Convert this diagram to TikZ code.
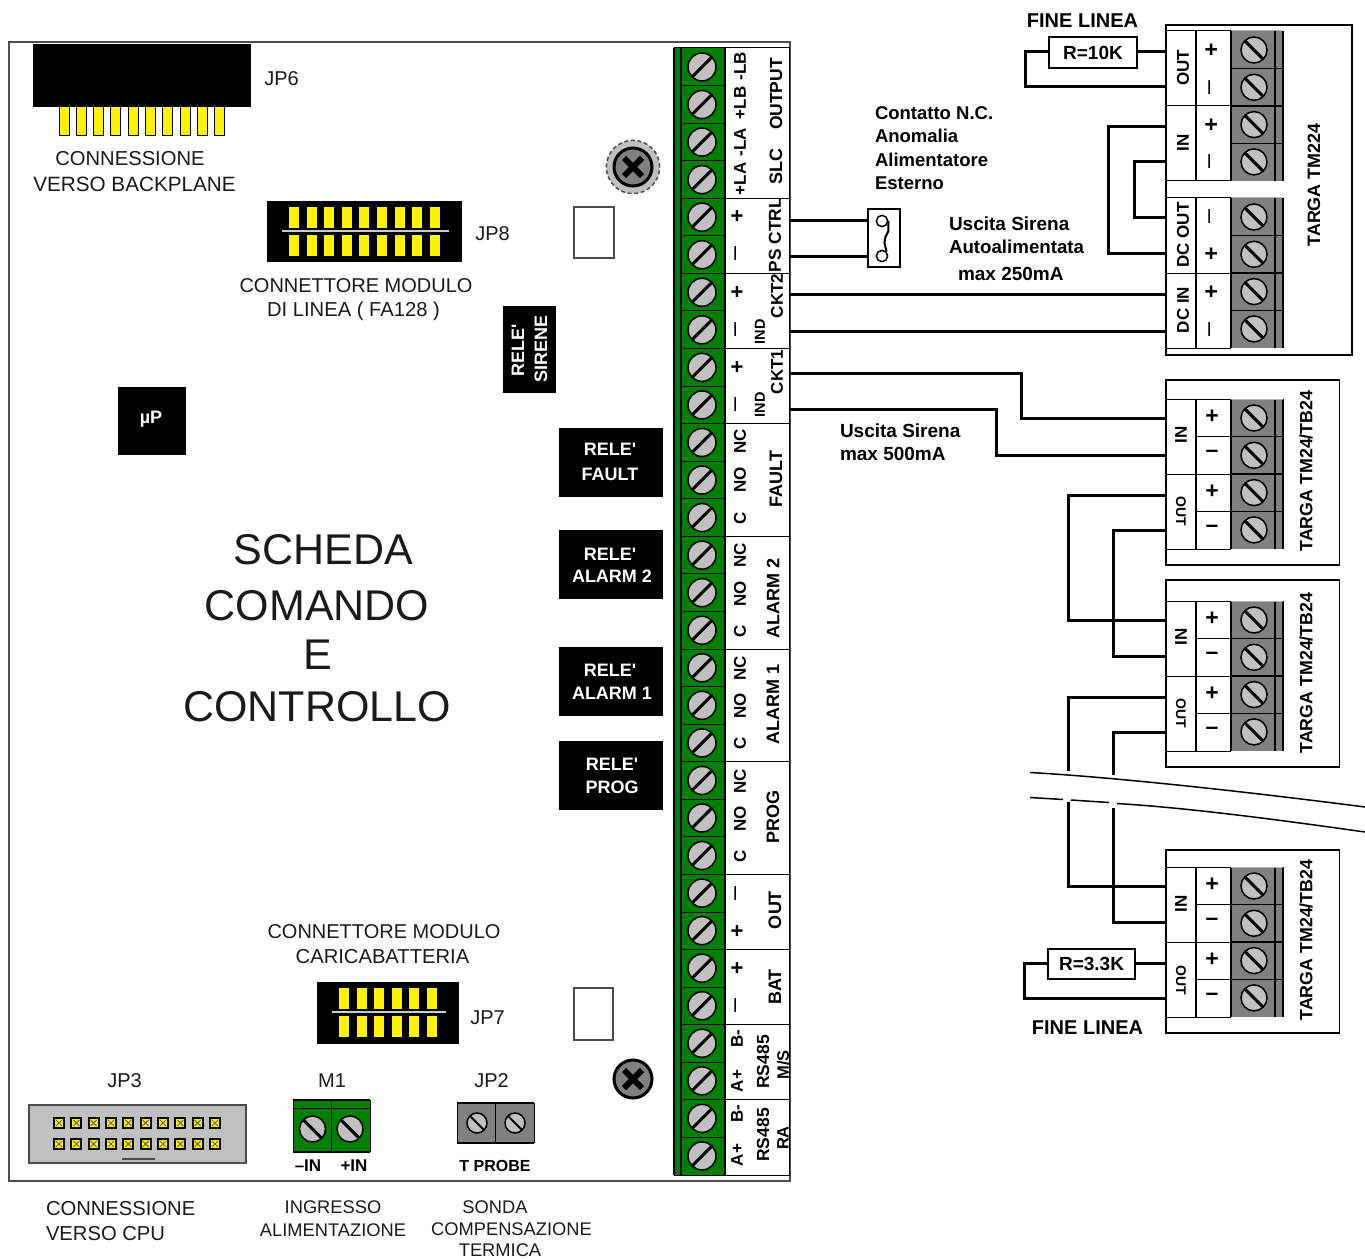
\documentclass[tikz,border=0pt]{standalone}
\usepackage{fontspec}
\setmainfont{Liberation Sans}
\usetikzlibrary{calc}
\newcommand\fsz[1]{\fontsize{\the\dimexpr#1pt*3/4\relax}{\the\dimexpr#1pt*9/10\relax}\selectfont}
\newcommand\Rl{RELE\textquotesingle}
\definecolor{pcbgreen}{HTML}{007F00}
\definecolor{scr}{HTML}{C0C0C0}
\definecolor{blk}{HTML}{808080}
\definecolor{ink}{HTML}{1A1A1A}
\tikzset{
  px/.style={line width=#1*0.75pt},
  lbl/.style={inner sep=0pt,outer sep=0pt,text=ink,align=center,font=\fsz{#1}},
  blbl/.style={inner sep=0pt,outer sep=0pt,text=black,align=center,font=\bfseries\fsz{#1}},
  wlbl/.style={inner sep=0pt,outer sep=0pt,text=white,align=center,font=\bfseries\fsz{#1}},
  rot/.style={rotate=90},
  wire/.style={px=3,draw=black,line join=miter},
  thinbox/.style={draw=black,px=1.5,fill=white},
  screwhead/.style={circle,draw=black,px=1.5,fill=scr,minimum size=#1*0.75pt,inner sep=0pt,outer sep=0pt},
  slashline/.style={draw=black,px=3},
  blackbox/.style={fill=black,draw=none},
  pin/.style={fill=yellow,draw=black,px=1},
  fixhead/.style={circle,draw=black,px=3,fill=blk,minimum size=#1*0.75pt,inner sep=0pt},
  fixcross/.style={draw=black,px=6},
}
\newcommand\Term[3]{% name, top, label
  \fill[blk] (1231,#2) rectangle (1283,{#2+150});
  \draw[px=2.5] (1231,#2) -- (1231,{#2+150});
  \draw[px=1.5] (1275,#2) -- (1275,{#2+150});
  \draw[px=2.5] (1283,#2) -- (1283,{#2+150});
  \draw[draw=blk!60!white,px=1] (1231,#2) -- (1283,#2);
  \foreach \j in {1,2,3} \draw[px=1.5] (1231,{#2+37.5*\j}) -- (1283,{#2+37.5*\j});
  \foreach \j in {0,1,2,3} {
    \node[screwhead=26] (#1s\j) at (1254,{#2+19+37.3*\j}) {};
    \draw[slashline] (#1s\j.135) -- (#1s\j.315);
  }
  \draw[px=1.5] (1196,#2) -- (1196,{#2+150});
  \draw[px=1] (1166,#2) -- (1231,#2) (1166,{#2+150}) -- (1231,{#2+150});
}
\begin{document}
\begin{tikzpicture}[x=0.75pt,y=-0.75pt]
\useasboundingbox (0,0) rectangle (1365,1259);
\fill[white] (0,0) rectangle (1365,1259);
% board
\draw[draw=black!70,px=2,fill=white] (9,42) rectangle (790,1181);
% terminal strip
\fill[pcbgreen] (674,48) rectangle (725,1175);
\draw[px=1.5] (674,48) -- (674,1175) (681,48) -- (681,1175) (725,48) -- (725,1175);
\draw[px=1] (674,48) -- (790,48) (674,1175) -- (790,1175) (789,48) -- (789,1175);
\foreach \i in {0,...,29} {
  \draw[draw=black,px=1] (681,{48+37.57*\i}) -- (725,{48+37.57*\i});
  \node[screwhead=28] (st\i) at (702,{67+37.55*\i}) {};
  \draw[slashline] (st\i.45) -- (st\i.225);
}
\foreach \k in {4,6,8,10,13,16,19,22,24,26,28}
  \draw[px=1] (725,{48+37.57*\k}) -- (789,{48+37.57*\k});
% strip labels
\foreach \n/\x/\y/\s/\t in {
 a/740/179/17/+LA, b/740/142/17/-LA, c/740/103/17/+LB, d/740/66/17/-LB,
 e/776/167/18/SLC, f/776/94/17.5/OUTPUT, g/775/235/17.3/PS CTRL,
 h/777/296/17/CKT2, i/777/372/17/CKT1, j/760/332/14.5/IND, k/760/405/14.5/IND,
 l1/740/441/17/NC, l2/740/480/17/NO, l3/740/518/17/C, m/776/479/18/FAULT,
 n1/740/555/17/NC, n2/740/594/17/NO, n3/740/631/17/C, o/773/598/18/ALARM 2,
 p1/740/668/17/NC, p2/740/706/17/NO, p3/740/743/17/C, q/773/704/18/ALARM 1,
 r1/740/781/17/NC, r2/740/819/17/NO, r3/740/856/17/C, s/773/817/18/PROG,
 t/775/910/18/OUT, u/775/987/18/BAT,
 v1/737/1039/17/B-, v2/737/1081/17/A+, w1/737/1114/17/B-, w2/737/1155/17/A+,
 x1/763/1062/17.5/RS485, x2/783/1065/16.5/{M/S}, y1/763/1135/17.5/RS485, y2/783/1138/16.5/RA}
 { \node[blbl=\s,rot] (L\n) at (\x,\y) {\t}; }
\foreach \n/\y/\t in {1/216/+,3/292/+,5/367/+,8/931/+,9/968/+}
 { \node[blbl=22,rot] (P\n) at (738,\y) {\t}; }
\foreach \n/\y/\t in {2/254/–,4/330/–,6/405/–,7/894/–,10/1006/–}
 { \node[lbl=25,text=black,rot] (P\n) at (738,\y) {\t}; }
% fixing screws
\node[circle,draw=black!70,densely dashed,px=1.5,fill=scr,minimum size=40pt,inner sep=0pt] (fixa) at (633,167) {};
\node[fixhead=38] (fixai) at (633,167) {};
\draw[fixcross] ($(fixai)+(-9,-9)$) -- ($(fixai)+(9,9)$) ($(fixai)+(-9,9)$) -- ($(fixai)+(9,-9)$);
\node[fixhead=38] (fixb) at (633,1079) {};
\draw[fixcross] ($(fixb)+(-9,-9)$) -- ($(fixb)+(9,9)$) ($(fixb)+(-9,9)$) -- ($(fixb)+(9,-9)$);
% white squares
\draw[draw=black!70,px=1.5,fill=white] (574,207) rectangle (614,258);
\draw[draw=black!70,px=1.5,fill=white] (574,988) rectangle (613,1040);
% JP6
\fill[blackbox] (33,44) rectangle (251,107);
\foreach \i in {0,...,9} \draw[pin] ({59+17.33*\i},107) rectangle ({69+17.33*\i},136);
\node[lbl=20] (jp6) at (281.5,79) {JP6};
\node[lbl=20.2] (cb1) at (130,159) {CONNESSIONE};
\node[lbl=20.7] (cb2) at (134.5,184) {VERSO BACKPLANE};
% JP8
\fill[blackbox] (267,201) rectangle (462,262);
\foreach \i in {0,...,8} {
  \fill[yellow] ({289+17.6*\i},207) rectangle ({299+17.6*\i},228);
  \fill[yellow] ({289+17.6*\i},235) rectangle ({299+17.6*\i},256);
}
\draw[draw=black!20,px=1.5] (282,231) -- (449,231);
\node[lbl=20] (jp8) at (492.5,234) {JP8};
\node[lbl=20] (cm1) at (356,286) {CONNETTORE MODULO};
\node[lbl=20.2] (cm2) at (353.5,311) {DI LINEA ( FA128 )};
% JP7
\fill[blackbox] (317,982) rectangle (459,1044);
\foreach \i in {0,...,5} {
  \fill[yellow] ({339+17.6*\i},988) rectangle ({349+17.6*\i},1009);
  \fill[yellow] ({339+17.6*\i},1016) rectangle ({349+17.6*\i},1037);
}
\draw[draw=black!20,px=1.5] (332,1012) -- (446,1012);
\node[lbl=20] (jp7) at (487.5,1018) {JP7};
\node[lbl=20] (cc1) at (384,932) {CONNETTORE MODULO};
\node[lbl=20.2] (cc2) at (382.5,957) {CARICABATTERIA};
% relay boxes
\fill[blackbox] (503,306) rectangle (556,393);
\node[wlbl=18,rot] (rs1) at (518,350) {\Rl};
\node[wlbl=18,rot] (rs2) at (541,349) {SIRENE};
\fill[blackbox] (118,387) rectangle (186,455);
\node[wlbl=18] (up) at (151,419) {µP};
\fill[blackbox] (559,428) rectangle (663,497);
\node[wlbl=18] (rf1) at (610,449) {\Rl};
\node[wlbl=18] (rf2) at (610,474) {FAULT};
\fill[blackbox] (559,530) rectangle (663,599);
\node[wlbl=18] (ra1) at (610,554) {\Rl};
\node[wlbl=18] (ra2) at (612,576) {ALARM 2};
\fill[blackbox] (559,647) rectangle (663,716);
\node[wlbl=18] (rb1) at (610,670) {\Rl};
\node[wlbl=18] (rb2) at (612,693) {ALARM 1};
\fill[blackbox] (559,741) rectangle (663,810);
\node[wlbl=18] (rp1) at (612,764) {\Rl};
\node[wlbl=18] (rp2) at (612,787) {PROG};
% title
\node[lbl=43] (t1) at (323.5,550) {SCHEDA};
\node[lbl=43] (t2) at (317,606) {COMANDO};
\node[lbl=43] (t3) at (318,655) {E};
\node[lbl=43] (t4) at (317,707) {CONTROLLO};
% JP3
\draw[draw=black!70,px=2,fill=scr] (29,1105) rectangle (246,1163);
\foreach \i in {0,...,9} \foreach \y in {1123,1144} {
  \draw[draw=black,px=2,fill=yellow] ({54+17.33*\i},{\y-5}) rectangle ({64+17.33*\i},{\y+5});
  \draw[draw=black!60,px=1] ({56+17.33*\i},{\y-3}) -- ({62+17.33*\i},{\y+3}) ({56+17.33*\i},{\y+3}) -- ({62+17.33*\i},{\y-3});
}
\draw[draw=black!70,px=1.5] (122,1159) -- (155,1159);
\node[lbl=20] (jp3) at (124.5,1081) {JP3};
\node[lbl=20.2,anchor=west] (cp1) at (46,1209) {CONNESSIONE};
\node[lbl=20.2,anchor=west] (cp2) at (46,1234) {VERSO CPU};
% M1
\fill[pcbgreen] (293,1100) rectangle (370,1152);
\draw[px=1.5] (293,1100) -- (370,1100);
\draw[px=1] (293,1108) -- (370,1108);
\draw[px=2] (293,1152) -- (370,1152);
\draw[px=1] (293,1100) -- (293,1152) (370,1100) -- (370,1152);
\draw[px=1.5] (331.5,1100) -- (331.5,1152);
\node[screwhead=26] (m1a) at (312.5,1129) {};
\draw[slashline] (m1a.135) -- (m1a.315);
\node[screwhead=26] (m1b) at (350,1129) {};
\draw[slashline] (m1b.135) -- (m1b.315);
\node[lbl=20] (m1) at (332,1081) {M1};
\node[blbl=17] (m1m) at (308,1166) {–IN};
\node[blbl=17] (m1p) at (354,1166) {+IN};
\node[lbl=18.3] (ia1) at (333,1207) {INGRESSO};
\node[lbl=18.3] (ia2) at (333,1230) {ALIMENTAZIONE};
% JP2
\fill[blk] (457,1103) rectangle (534,1143);
\draw[px=2] (457,1103) -- (534,1103) (457,1143) -- (534,1143);
\draw[px=1] (457,1103) -- (457,1143) (534,1103) -- (534,1143) (495,1103) -- (495,1143);
\node[screwhead=20] (j2a) at (477,1123) {};
\draw[draw=black,px=2] (j2a.135) -- (j2a.315);
\node[screwhead=20] (j2b) at (515,1123) {};
\draw[draw=black,px=2] (j2b.135) -- (j2b.315);
\node[lbl=20] (jp2) at (491.5,1081) {JP2};
\node[blbl=16] (tp) at (495,1166) {T PROBE};
\node[lbl=18.3] (sc1) at (495,1207) {SONDA};
\node[lbl=18.3] (sc2) at (511.5,1229) {COMPENSAZIONE};
\node[lbl=18.3] (sc3) at (500,1250) {TERMICA};
% modules
\draw[thinbox] (1166,25) rectangle (1352,355);
\draw[thinbox] (1166,380) rectangle (1339.5,565);
\draw[thinbox] (1166,580) rectangle (1339.5,767);
\draw[thinbox] (1166,850) rectangle (1339.5,1033);
\Term{ma}{31}{}
\Term{mb}{198}{}
\draw[px=1] (1166,106) -- (1231,106) (1166,273.5) -- (1231,273.5);
\Term{mc}{399}{}
\Term{md}{601}{}
\Term{me}{867}{}
\foreach \t in {399,601,867} {
  \draw[px=1] (1166,{\t+75}) -- (1231,{\t+75});
  \draw[px=1] (1196,{\t+37.5}) -- (1231,{\t+37.5}) (1196,{\t+112.5}) -- (1231,{\t+112.5});
}
% module labels
\foreach \n/\x/\y/\s/\t in {
 1/1183/68/17/OUT,2/1183/143/17/IN,3/1183/235/17/DC OUT,4/1183/310/17/DC IN,
 5/1181/435/17/IN,6/1181/637/17/IN,7/1181/904/17/IN}
 { \node[blbl=\s,rot] (ML\n) at (\x,\y) {\t}; }
\foreach \n/\y in {1/511,2/713,3/980}
 { \node[blbl=14,rotate=-90] (MO\n) at (1181,\y) {OUT}; }
\foreach \n/\y/\t in {1/50/+,3/125/+,6/254/+,7/292/+}
 { \node[blbl=23,rot] (MP\n) at (1212,\y) {\t}; }
\foreach \n/\y/\t in {2/88/–,4/162/–,5/217/–,8/330/–}
 { \node[lbl=25,text=black,rot] (MP\n) at (1212,\y) {\t}; }
\foreach \b/\yy in {a/399,b/601,c/867} {
  \node[blbl=23] (Mq\b1) at (1212,{\yy+18}) {+};
  \node[blbl=23] (Mq\b2) at (1212,{\yy+55}) {–};
  \node[blbl=23] (Mq\b3) at (1212,{\yy+93}) {+};
  \node[blbl=23] (Mq\b4) at (1212,{\yy+130}) {–};
}
\node[blbl=17.9,rot] (tg1) at (1314,185) {TARGA TM224};
\node[blbl=17.8,rot] (tg2) at (1306,471) {TARGA TM24/TB24};
\node[blbl=17.8,rot] (tg3) at (1306,673) {TARGA TM24/TB24};
\node[blbl=17.8,rot] (tg4) at (1306,940) {TARGA TM24/TB24};
% notes
\node[blbl=20] (fl1) at (1082.5,21) {FINE LINEA};
\node[blbl=20] (fl2) at (1087.5,1028) {FINE LINEA};
\node[blbl=18.5,anchor=west] (na1) at (875,113) {Contatto N.C.};
\node[blbl=18.5,anchor=west] (na2) at (875,136) {Anomalia};
\node[blbl=18.5,anchor=west] (na3) at (875,160) {Alimentatore};
\node[blbl=18.5,anchor=west] (na4) at (875,183) {Esterno};
\node[blbl=19,anchor=west] (nb1) at (949,224) {Uscita Sirena};
\node[blbl=18.7,anchor=west] (nb2) at (949,247) {Autoalimentata};
\node[blbl=19,anchor=west] (nb3) at (958,274) {max 250mA};
\node[blbl=19,anchor=west] (nc1) at (840,431) {Uscita Sirena};
\node[blbl=19,anchor=west] (nc2) at (840,454) {max 500mA};
% switch
\node[draw=black,px=1.5,fill=white,minimum width=24pt,minimum height=43.5pt,inner sep=0pt] (sw) at (884,238) {};
\node[circle,draw=black,px=1.5,fill=white,minimum size=8.5pt,inner sep=0pt] (swa) at (882,221) {};
\node[circle,draw=black,px=1.5,fill=white,minimum size=8.5pt,inner sep=0pt] (swb) at (882,256) {};
\draw[px=2] (swa.east) -- ++(0,10) -- ++(-3,6) -- ++(-1,6) -- (swb.45);
% wire endpoints
\coordinate (wp1) at (790,221); \coordinate (wp2) at (790,257);
\coordinate (swl1) at (868,221); \coordinate (swl2) at (868,257);
\coordinate (c2p) at (790,295); \coordinate (c2m) at (790,331);
\coordinate (dcp) at (1166,295); \coordinate (dcm) at (1166,331);
\coordinate (c1p) at (790,373); \coordinate (c1m) at (790,409);
\coordinate (tb1p) at (1166,418); \coordinate (tb1m) at (1166,455);
\coordinate (b1) at (1021,0); \coordinate (b2) at (996,0);
\coordinate (b3) at (1108,0); \coordinate (b4) at (1134,0);
\coordinate (b5) at (1068,0); \coordinate (b6) at (1113,0);
\coordinate (b7) at (1025,0); \coordinate (b8) at (1024,0);
\coordinate (op) at (1166,52); \coordinate (om) at (1166,87);
\coordinate (ip) at (1166,127); \coordinate (im) at (1166,162);
\coordinate (dom) at (1166,218); \coordinate (dop) at (1166,254);
\coordinate (t1op) at (1166,495); \coordinate (t1om) at (1166,530);
\coordinate (t2ip) at (1166,620); \coordinate (t2im) at (1166,656);
\coordinate (t2op) at (1166,697); \coordinate (t2om) at (1166,732);
\coordinate (t3ip) at (1166,886); \coordinate (t3im) at (1166,922);
\coordinate (t3op) at (1166,963); \coordinate (t3om) at (1166,998);
\coordinate (bk1a) at (1068,771); \coordinate (bk1b) at (1113,775);
\coordinate (bk2a) at (1068,802); \coordinate (bk2b) at (1113,808);
% resistors
\node[draw=black,px=1.5,fill=white,minimum width=66pt,minimum height=23pt,inner sep=0pt,blbl=19] (r10) at (1093,52.5) {R=10K};
\node[draw=black,px=1.5,fill=white,minimum width=65pt,minimum height=22.5pt,inner sep=0pt,blbl=19] (r33) at (1091.5,964) {R=3.3K};
% wires
\draw[wire] (wp1) -- (swl1);
\draw[wire] (wp2) -- (swl2);
\draw[wire] (c2p) -- (dcp);
\draw[wire] (c2m) -- (dcm);
\draw[wire] (c1p) -- (c1p -| b1) -- (tb1p -| b1) -- (tb1p);
\draw[wire] (c1m) -- (c1m -| b2) -- (tb1m -| b2) -- (tb1m);
\draw[wire] (op) -- (r10.east |- op);
\draw[wire] (r10.west |- op) -- (op -| b7) -- (om -| b7) -- (om);
\draw[wire] (ip) -- (ip -| b3) -- (dop -| b3) -- (dop);
\draw[wire] (im) -- (im -| b4) -- (dom -| b4) -- (dom);
\draw[wire] (t1op) -- (t1op -| b5) -- (t2ip -| b5) -- (t2ip);
\draw[wire] (t1om) -- (t1om -| b6) -- (t2im -| b6) -- (t2im);
\draw[wire] (t2op) -- (t2op -| b5) -- (bk1a);
\draw[wire] (t2om) -- (t2om -| b6) -- (bk1b);
\draw[wire] (bk2a) -- (t3ip -| b5) -- (t3ip);
\draw[wire] (bk2b) -- (t3im -| b6) -- (t3im);
\draw[wire] (t3op) -- (r33.east |- t3op);
\draw[wire] (r33.west |- t3op) -- (t3op -| b8) -- (t3om -| b8) -- (t3om);
% break lines
\draw[px=1.5] (1030,772.5) .. controls (1110,777) and (1233,790) .. (1365,807);
\draw[px=1.5] (1030,797.5) -- (1063,799.5);
\draw[px=1.5] (1071,800) -- (1109,802.5);
\draw[px=1.5] (1117,803.5) .. controls (1190,808) and (1280,820) .. (1365,832);
\end{tikzpicture}
\end{document}
